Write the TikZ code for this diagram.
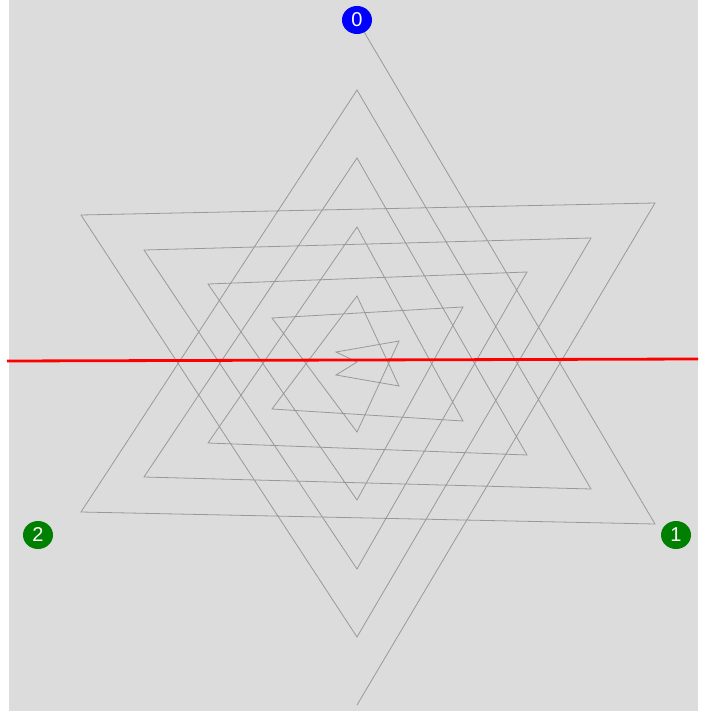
\documentclass[tikz,border=0pt]{standalone}
\usepackage{fontspec}
\setsansfont{Liberation Sans}
\usetikzlibrary{shapes.geometric}
\definecolor{canvasgray}{HTML}{DCDCDC}
\definecolor{spiralgray}{HTML}{999999}
\definecolor{markblue}{HTML}{0000FF}
\definecolor{markgreen}{HTML}{008000}
\begin{document}
\begin{tikzpicture}[
  x=1pt, y=-1pt,
  font=\sffamily,
  marker/.style={ellipse, minimum width=30pt, minimum height=28pt, inner sep=0pt, text=white, font=\sffamily\fontsize{20}{20}\selectfont},
  start/.style={marker, fill=markblue},
  corner/.style={marker, fill=markgreen},
  spiral/.style={draw=spiralgray, line width=0.8pt, line join=miter},
  axis/.style={draw=red, line width=2.8pt}
]
\useasboundingbox (0,0) rectangle (704,711);
\fill[canvasgray] (9,0) rectangle (698,711);
% markers
\coordinate (c0) at (357,20);
\coordinate (c1) at (676,535);
\coordinate (c2) at (38,535);
% spiral, from marker 0 inwards and out again
\draw[spiral] (c0)
  -- (655,524) -- (81,512) -- (357,90)
  -- (591,489) -- (144,477) -- (357,158)
  -- (527,455) -- (208,443) -- (357,227)
  -- (463,421) -- (272,409) -- (357,296)
  -- (399,386) -- (336,375) -- (357,362)
  -- (336,352) -- (399,341) -- (357,432)
  -- (272,318) -- (463,307) -- (357,500)
  -- (208,284) -- (527,272) -- (357,569)
  -- (144,250) -- (591,238) -- (357,637)
  -- (81,215) -- (655,203) -- (357,705);
% red line
\coordinate (west) at (7,361);
\coordinate (east) at (698,359);
\draw[axis] (west) -- (east);
\node[start] (n0) at (c0) {0};
\node[corner] (n1) at (c1) {1};
\node[corner] (n2) at (c2) {2};
\end{tikzpicture}
\end{document}
